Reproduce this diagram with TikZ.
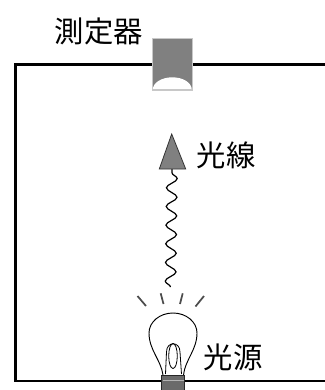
\documentclass[tikz,border=0pt]{standalone}
\usepackage{fontspec}
\newfontfamily\jpfont{Noto Sans CJK JP}
\usetikzlibrary{decorations.pathmorphing}
\definecolor{devgray}{HTML}{808080}
\definecolor{devedge}{HTML}{C8C8C8}
\definecolor{basegray}{HTML}{6A6A6A}
\definecolor{stripe}{HTML}{B4B4B4}
\tikzset{
  frame/.style={line width=2pt, line cap=butt},
  label/.style={font=\jpfont\fontsize{22}{24}\selectfont, inner sep=0pt},
  glass/.style={draw=black, line width=0.7pt, fill=white},
  wavy/.style={line width=0.9pt, decorate,
    decoration={snake, segment length=14pt, amplitude=4pt}},
  ray/.style={draw=black!70, line width=1.3pt}
}
\begin{document}
\begin{tikzpicture}[x=0.75pt, y=-0.75pt]
\useasboundingbox (0,0) rectangle (325,390);

% enclosure (open to the right)
\draw[frame] (325,64.5) -- (15.3,64.5) -- (15.3,381) -- (325,381);

% detector with its curved window (y axis points down, so arcs run 180->360)
\filldraw[fill=devgray, draw=devedge, line width=0.8pt]
  (152.3,38.3) rectangle (192.3,90);
\fill[white] (152.8,89.6) arc[start angle=180, end angle=360, x radius=19.5, y radius=12.3] -- cycle;
\draw[devedge, line width=0.8pt] (152.3,90) -- (192.3,90);
\node[label] (meter) at (99,31) {測定器};

% light ray travelling up to the detector
\coordinate (src) at (170.5,287);
\coordinate (head) at (172,169);
\draw[wavy] (src) -- (head);
\filldraw[fill=devgray, draw=black!80, line width=0.6pt]
  (159.3,169) -- (171.7,134) -- (185.7,169) -- cycle;
\node[label] (ray) at (226,155) {光線};

% glow around the bulb
\draw[ray] (137.5,296) -- (146,306);
\draw[ray] (160.7,293.3) -- (163.5,304);
\draw[ray] (182.7,293.3) -- (180,304);
\draw[ray] (204,296) -- (195.5,306.5);

% bulb glass
\draw[glass] (163,375) .. controls (161,360) and (149,350) .. (149,333)
  arc[start angle=180, end angle=360, x radius=24, y radius=20]
  .. controls (197,350) and (185,360) .. (183.5,375);

% filament
\draw[line width=0.6pt] (165.5,374) -- (166.5,352)
  .. controls (166.5,341) and (180,341) .. (180,352) -- (181.5,374);
\draw[line width=0.6pt] (173,356) ellipse[x radius=4.3, y radius=12.5];

% screw base
\filldraw[fill=basegray, draw=black!85, line width=0.6pt]
  (161.7,375) rectangle (184.3,391);
\fill[stripe] (162.5,379.6) rectangle (183.5,381);
\node[label] (source) at (233,357) {光源};
\end{tikzpicture}
\end{document}
